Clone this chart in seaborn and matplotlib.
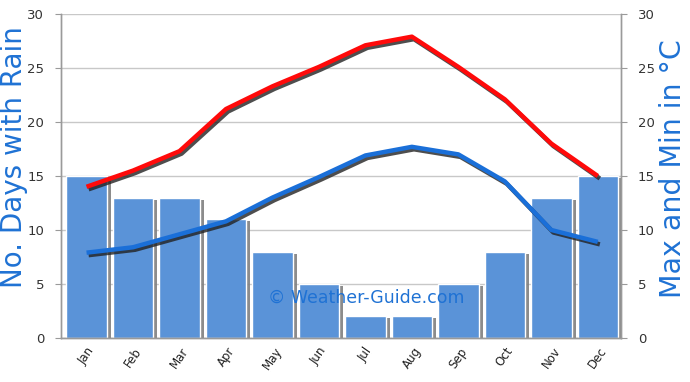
import numpy as np
import pandas as pd
import matplotlib.pyplot as plt
import matplotlib.patheffects as pe
import seaborn as sns

sns.set_style("white")
plt.rcParams['font.family'] = ['DejaVu Sans']

# Data
months = ["Jan", "Feb", "Mar", "Apr", "May", "Jun", "Jul", "Aug", "Sep", "Oct", "Nov", "Dec"]
rain_days = [15, 13, 13, 11, 8, 5, 2, 2, 5, 8, 13, 15]
max_temp = [14.0, 15.5, 17.3, 21.2, 23.3, 25.1, 27.1, 27.9, 25.1, 22.1, 18.0, 15.0]
min_temp = [7.9, 8.4, 9.6, 10.8, 13.0, 14.9, 16.9, 17.7, 17.0, 14.5, 10.0, 8.9]

df = pd.DataFrame({"Month": months, "Rain": rain_days, "Max": max_temp, "Min": min_temp})

label_blue = "#1f72d4"
grid_col = "#c8c8c8"
spine_col = "#9a9a9a"

fig = plt.figure(figsize=(6.9, 3.82), dpi=100)
ax1 = fig.add_axes([0.0884, 0.1152, 0.8116, 0.8482])

# Rain bars with a grey drop shadow
sns.barplot(data=df, x="Month", y="Rain", ax=ax1, color="#5a93d8", width=0.87,
            saturation=1, zorder=2)
for bar in ax1.patches:
    bar.set_path_effects([pe.SimplePatchShadow(offset=(3, -1.5), shadow_rgbFace="#808080", alpha=0.9),
                          pe.Normal()])

ax1.set_ylim(0, 30)
ax1.set_xlim(-0.55, 11.5)
ax1.set_yticks(range(0, 31, 5))
ax1.yaxis.grid(True, color=grid_col, linewidth=1)
ax1.set_axisbelow(True)
ax1.set_xlabel("")
ax1.set_ylabel("")
ax1.tick_params(axis="y", labelsize=9.5, colors="#333333", length=4, color=spine_col, pad=8)
ax1.tick_params(axis="x", which="major", length=0, labelsize=8.5, colors="#222222", pad=5)
ax1.set_xticks(range(12))
ax1.set_xticklabels(months, rotation=55, ha="center")
ax1.set_xticks(np.arange(-0.5, 12, 1), minor=True)
ax1.tick_params(axis="x", which="minor", length=6, color=spine_col, direction="out")

# Temperature lines on the right axis
ax2 = ax1.twinx()
shadow = [pe.SimpleLineShadow(offset=(1.5, -1.8), shadow_color="#222222", alpha=0.8), pe.Normal()]
sns.lineplot(x=np.arange(12), y=df["Max"], ax=ax2, color="#ff0a0a", linewidth=3.2)
sns.lineplot(x=np.arange(12), y=df["Min"], ax=ax2, color="#1a6fd8", linewidth=3.2)
for line in ax2.lines:
    line.set_path_effects(shadow)
    line.set_solid_capstyle("butt")
ax2.set_ylim(0, 30)
ax2.set_yticks(range(0, 31, 5))
ax2.set_ylabel("")
ax2.tick_params(axis="y", labelsize=9.5, colors="#333333", length=4, color=spine_col, pad=8)

for ax in (ax1, ax2):
    ax.spines["top"].set_visible(False)
    for s in ("left", "right", "bottom"):
        ax.spines[s].set_color(spine_col)
        ax.spines[s].set_linewidth(1)

# Axis titles placed by hand so they sit where the reference has them
fig.text(14 / 690, 1 - 157 / 382, "No. Days with Rain", rotation=90, fontsize=20,
         color=label_blue, ha="center", va="center")
fig.text(673 / 690, 1 - 169 / 382, "Max and Min in °C", rotation=90, fontsize=20.5,
         color=label_blue, ha="center", va="center")

ax1.text(0.545, 0.123, "© Weather-Guide.com", transform=ax1.transAxes, fontsize=12.5,
         color=label_blue, ha="center", va="center", zorder=5)

plt.savefig("out.png", dpi=100)
plt.close()
